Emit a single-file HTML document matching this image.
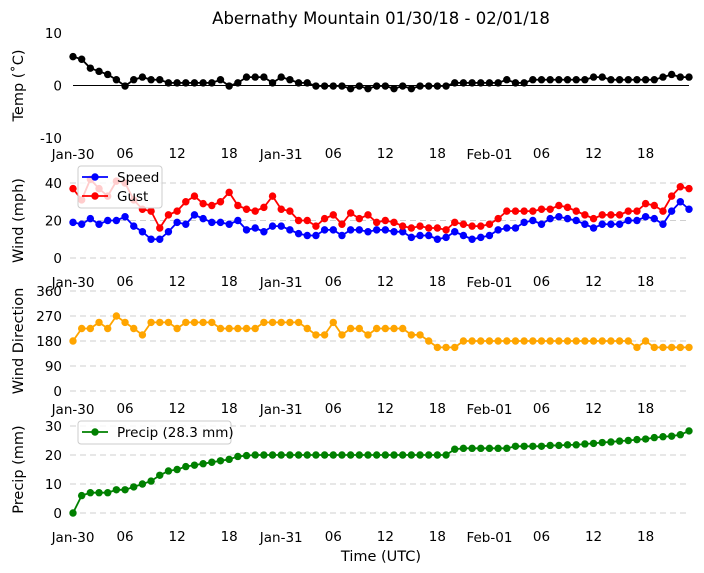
<!DOCTYPE html>
<html><head><meta charset="utf-8"><style>
body{margin:0;background:#fff}
svg{font-family:"DejaVu Sans","Liberation Sans",sans-serif;display:block}
</style></head><body>
<svg id="c" width="704" height="573" viewBox="0 0 704 573"></svg>
<script>
const hours = Array.from({length:72},(_,i)=>i);
const tickLabels = ["Jan-30","06","12","18","Jan-31","06","12","18","Feb-01","06","12","18"];
const temp = [5.5,5,3.3,2.7,2.1,1.1,-0.1,1.1,1.6,1.1,1.1,0.5,0.5,0.5,0.5,0.5,0.5,1.1,-0.1,0.5,1.6,1.6,1.6,0.5,
1.6,1.1,0.5,0.5,-0.1,-0.1,-0.1,-0.1,-0.6,-0.1,-0.6,-0.1,-0.1,-0.6,-0.1,-0.6,-0.1,-0.1,-0.1,-0.1,0.5,0.5,0.5,0.5,
0.5,0.5,1.1,0.5,0.5,1.1,1.1,1.1,1.1,1.1,1.1,1.1,1.6,1.6,1.1,1.1,1.1,1.1,1.1,1.1,1.6,2.1,1.6,1.6];
const speed = [19,18,21,18,20,20,22,17,14,10,10,14,19,18,23,21,19,19,18,20,15,16,14,17,17,15,13,12,12,15,15,12,15,15,14,15,15,14,14,11,12,12,10,11,14,12,10,11,12,15,16,16,19,20,18,21,22,21,20,18,16,18,18,18,20,20,22,21,18,25,30,26];
const gust = [37,31,42,37,33,41,40,31,26,25,16,23,25,30,33,29,28,30,35,28,26,25,27,33,26,25,20,20,17,21,23,18,24,21,23,19,20,19,17,16,17,16,16,15,19,18,17,17,18,21,25,25,25,25,26,26,28,27,25,23,21,23,23,23,25,25,29,28,25,33,38,37];
const direction = [180,225,225,247,225,270,247,225,202,247,247,247,225,247,247,247,247,225,225,225,225,225,247,247,247,247,247,225,202,202,247,202,225,225,202,225,225,225,225,202,202,180,157,157,157,180,180,180,180,180,
180,180,180,180,180,180,180,180,180,180,180,180,180,180,180,157,180,157,157,157,157,157];
const precip = [0,6,7,7,7,8,8,9,10,11,13,14.5,15,16,16.5,17,17.5,18,18.5,19.5,19.8,20,20,20,20,20,20,20,20,20,20,20,20,20,20,20,20,20,20,20,20,20,20,20,22,22.3,22.3,22.3,22.3,22.3,22.3,23,23,23,23,23.3,23.3,23.5,23.5,23.8,24,24.3,24.5,24.8,25,25.3,25.5,26,26.3,26.5,27,28.3];
const tempTicks=[-10,0,10], windTicks=[0,20,40], dirTicks=[0,90,180,270,360], precipTicks=[0,10,20,30];

const svg=document.getElementById('c');
const NS='http://www.w3.org/2000/svg';
function el(tag,attrs,parent){const e=document.createElementNS(NS,tag);for(const k in attrs)e.setAttribute(k,attrs[k]);(parent||svg).appendChild(e);return e;}
const X=h=>73+h*(616/71);
const panels=[
 {name:'temp',ymin:-10,ymax:10,top:33,bot:138,ticks:tempTicks,label:'Temp (˚C)',grid:false,tickY:158},
 {name:'wind',ymin:0,ymax:40,top:183,bot:258,ticks:windTicks,label:'Wind (mph)',grid:true,tickY:286},
 {name:'direction',ymin:0,ymax:360,top:291,bot:391,ticks:dirTicks,label:'Wind Direction',grid:true,tickY:413},
 {name:'precip',ymin:0,ymax:30,top:426,bot:513,ticks:precipTicks,label:'Precip (mm)',grid:true,tickY:541}
];
panels.forEach(p=>{p.Y=v=>p.bot-(v-p.ymin)/(p.ymax-p.ymin)*(p.bot-p.top);});

const t=el('text',{x:381,y:24,'text-anchor':'middle','font-size':16.5,fill:'#000'});
t.textContent='Abernathy Mountain 01/30/18 - 02/01/18';



panels.forEach(p=>{
  const g=el('g',{});
  
  
  p.ticks.forEach(v=>{
    const y=p.Y(v);
    if(p.grid){const l=el('line',{x1:70,x2:690,y1:y,y2:y,stroke:'#cfcfcf','stroke-dasharray':'6,4','stroke-width':1},g);
      }
    const tx=el('text',{x:62,y:y+5,'text-anchor':'end','font-size':13.5,fill:'#000'},g);
    tx.textContent=v;
    
    
  });
  tickLabels.forEach((s,i)=>{
    const tx=el('text',{x:X(i*6),y:p.tickY+(s.length>2?1:0),'text-anchor':'middle','font-size':13.5,fill:'#000'},g);
    tx.textContent=s;
    
    
  });
  const yl=el('text',{x:0,y:0,'text-anchor':'middle','font-size':14.5,fill:'#000',transform:`translate(23,${(p.top+p.bot)/2}) rotate(-90)`},g);
  yl.textContent=p.label;
  
  
});
const zl=el('line',{x1:73,x2:689,y1:panels[0].Y(0),y2:panels[0].Y(0),stroke:'#000','stroke-width':1});



function series(p,vals,color,name){
  const g=el('g',{});
  
  
  const pl=el('polyline',{points:vals.map((v,i)=>X(hours[i])+','+p.Y(v)).join(' '),fill:'none',stroke:color,'stroke-width':1.8},g);
  
  
  vals.forEach((v,i)=>{
    const c=el('circle',{cx:X(hours[i]),cy:p.Y(v),r:3.7,fill:color},g);
    
    
  });
}
series(panels[0],temp,'#000','temp');
series(panels[1],speed,'#0000ff','speed');
series(panels[1],gust,'#ff0000','gust');
series(panels[2],direction,'#ffa500','direction');
series(panels[3],precip,'#008000','precip');

function legend(x,y,w,items,name){
  const g=el('g',{});
  
  
  el('rect',{x:x,y:y,width:w,height:items.length*19+4,rx:3,fill:'rgba(255,255,255,0.8)',stroke:'#ccc'},g);
  items.forEach((it,i)=>{
    const cy=y+11+i*19;
    el('line',{x1:x+4,x2:x+30,y1:cy,y2:cy,stroke:it[1],'stroke-width':1.8},g);
    el('circle',{cx:x+17,cy:cy,r:3.7,fill:it[1]},g);
    const tx=el('text',{x:x+39,y:cy+5,'font-size':13.5,fill:'#000'},g);
    tx.textContent=it[0];
    
    
  });
}
legend(78,166,84,[['Speed','#0000ff'],['Gust','#ff0000']],'wind-legend');
legend(78,421,153,[['Precip (28.3 mm)','#008000']],'precip-legend');

const xt=el('text',{x:381,y:561,'text-anchor':'middle','font-size':14.5,fill:'#000'});
xt.textContent='Time (UTC)';


</script>
</body></html>
